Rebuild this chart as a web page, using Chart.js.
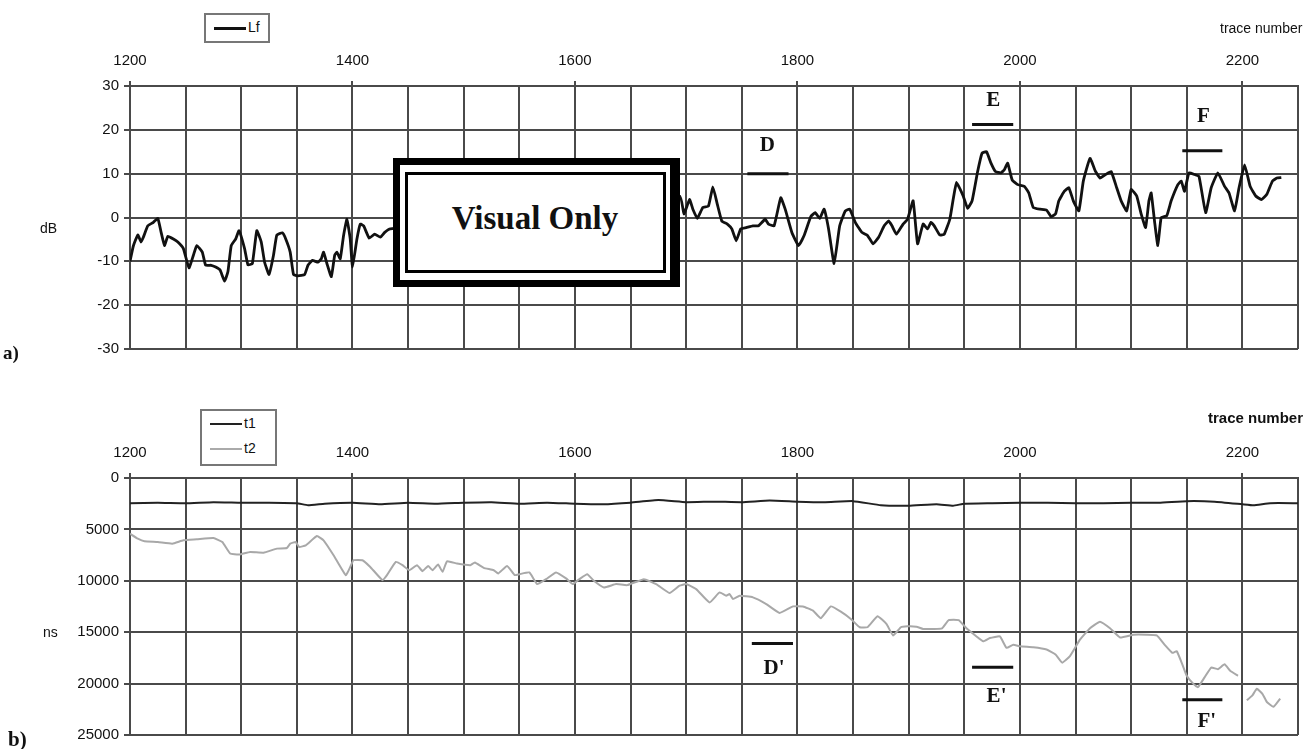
<!DOCTYPE html>
<html>
<head>
<meta charset="utf-8">
<script src="https://cdn.jsdelivr.net/npm/chart.js@4.4.0/dist/chart.umd.min.js"></script>
<style>
  body { margin: 0; background: #fff; font-family: "Liberation Sans", Arial, sans-serif; color: #111; }
  #wrap { position: relative; width: 1313px; height: 749px; overflow: hidden; background: #fff; }
  canvas { position: absolute; left: 0; }
  .lbl { position: absolute; white-space: nowrap; }
  .legend { position: absolute; border: 2px solid #777; background: #fff; }
  .legend .row { position: absolute; left: 8px; font-size: 14px; }
  .legend .sw { display: inline-block; width: 32px; vertical-align: middle; margin-right: 2px; }
  .tag { position: absolute; font-family: "Liberation Serif", serif; font-weight: bold; }
  #stamp { position: absolute; left: 393px; top: 158px; width: 270px; height: 115px;
           border: 7px solid #000; border-right-width: 10px; background: #fff; }
  #stamp .inner { position: absolute; left: 5px; top: 7px; width: 255px; height: 95px; border: 3px solid #000; }
  #stamp .txt { position: absolute; left: 0; right: 0; top: 35px; text-align: center;
                font-family: "Liberation Serif", serif; font-weight: bold; font-size: 33px; }
</style>
</head>
<body>
<div id="wrap">
  <canvas id="top" width="1313" height="365" style="top:0"></canvas>
  <canvas id="bot" width="1313" height="384" style="top:365px"></canvas>

  <div class="legend" style="left:204px;top:13px;width:62px;height:26px">
    <div class="row" style="top:4px"><span class="sw" style="border-top:3px solid #111"></span>Lf</div>
  </div>
  <div class="lbl" style="left:1220px;top:20px;font-size:14px">trace number</div>
  <div class="lbl" style="left:40px;top:220px;font-size:14px">dB</div>
  <div class="tag" style="left:3px;top:342px;font-size:19px">a)</div>

  <div class="legend" style="left:200px;top:409px;width:73px;height:53px">
    <div class="row" style="top:4px"><span class="sw" style="border-top:2px solid #222"></span>t1</div>
    <div class="row" style="top:29px"><span class="sw" style="border-top:2px solid #aaa"></span>t2</div>
  </div>
  <div class="lbl" style="left:1208px;top:409px;font-size:15px;font-weight:bold">trace number</div>
  <div class="lbl" style="left:43px;top:624px;font-size:14px">ns</div>
  <div class="tag" style="left:8px;top:727px;font-size:21px">b)</div>

  <div id="stamp"><div class="inner"></div><div class="txt">Visual Only</div></div>
</div>

<script>
// a) Lf level along the profile, dB
const lfTrace = [1200,1203,1207,1210,1212,1216,1221,1225,1228,1231,1234,1239,1243,1248,1253,1257,1260,1265,1268,1273,
  1277,1281,1285,1288,1291,1295,1298,1303,1306,1310,1314,1318,1321,1325,1329,1332,1337,1340,1344,1347,
  1351,1357,1360,1364,1369,1372,1374,1377,1381,1384,1386,1389,1392,1395,1398,1400,1404,1407,1410,1415,
  1420,1425,1429,1434,
  1694,1698,1703,1706,1710,1715,1720,1724,1728,1732,1737,1741,1745,1749,1754,1760,1765,1771,1774,1779,
  1785,1789,1795,1801,1806,1812,1816,1820,1824,1828,1833,1838,1843,1847,1852,1858,1863,1868,1873,1878,
  1882,1885,1889,1895,1899,1904,1908,1913,1917,1920,1923,1928,1932,1937,1940,1943,1949,1953,1957,1962,
  1966,1970,1974,1978,1983,1986,1989,1993,1998,2004,2008,2012,2018,2024,2028,2032,2035,2040,2044,2048,
  2053,2057,2063,2068,2072,2077,2082,2087,2091,2096,2100,2105,2109,2113,2116,2118,2121,2124,2127,2132,
  2136,2142,2145,2148,2152,2157,2161,2167,2172,2178,2184,2188,2193,2197,2202,2207,2212,2217,2222,2227,
  2231,2235];
const lfDb = [-10,-6.5,-4,-5.6,-4.5,-1.9,-1.1,-0.2,-3.4,-6.4,-4.3,-4.9,-5.6,-7.1,-11.5,-8.6,-6.4,-7.9,-10.9,-10.9,
  -11.3,-12,-14.5,-12.4,-6.4,-4.9,-3,-7.1,-10.8,-10.5,-3,-5.6,-10.2,-13,-8.6,-4,-3.5,-4.9,-7.9,-13,
  -13.3,-13,-10.9,-9.8,-10.2,-9.4,-7.9,-10.5,-13.5,-8.6,-7.9,-9.4,-4.1,-0.4,-4.9,-11.3,-4.9,-1.5,-1.9,-4.7,
  -3.8,-4.5,-3.4,-2.6,
  4.9,0.8,4.1,1.9,-0.2,2.3,2.6,7,3,-0.8,-1.5,-2.6,-5.3,-2.6,-2.3,-1.9,-1.9,-0.4,-1.5,-1.9,
  4.5,1.9,-3.4,-6.4,-4.1,0.2,1.1,-0.2,1.9,-2.6,-10.5,-1.9,1.5,1.9,-1.1,-3.4,-4.1,-6,-4.5,-1.9,
  -0.8,-1.9,-3.8,-1.5,-0.4,3.8,-6,-1.5,-2.6,-1.1,-1.9,-4,-3.8,-0.4,4.1,8,4.9,2.1,3.8,10.5,
  14.7,15,12.4,10.5,10.2,10.9,12.4,8.6,7.5,7.1,5.6,2.3,1.9,1.7,0.2,0.8,3.8,6,6.8,3.8,
  1.5,8.3,13.5,10.5,9,9.8,10.5,6.8,3.8,1.5,6.4,4.9,0.8,-2.3,3.8,5.6,-0.8,-6.4,0,0.4,
  3.8,7.5,8.3,6,10.2,9.8,9.4,1.1,6.8,10.2,7.1,5.6,1.5,6.8,12,7.1,4.9,4.1,5.3,8.3,
  9,9.1];

// b) travel times, ns
const t1Trace = [1200,1225,1250,1275,1300,1325,1350,1360,1375,1400,1425,1450,1475,1500,1525,1550,1575,1600,1625,1650,
  1675,1700,1725,1750,1775,1800,1825,1850,1875,1900,1925,1940,1950,1975,2000,2025,2050,2075,2100,2125,
  2150,2175,2200,2210,2225,2250];
const t1Ns = [2450,2400,2450,2350,2400,2400,2450,2650,2500,2400,2550,2400,2500,2400,2350,2500,2400,2500,2550,2400,
  2150,2350,2300,2350,2200,2300,2350,2250,2650,2700,2550,2700,2500,2450,2400,2400,2450,2450,2400,2400,
  2250,2300,2550,2650,2450,2450];

const t2Trace = [1200,1207,1213,1225,1238,1248,1260,1275,1283,1290,1298,1308,1320,1332,1341,1344,1349,1352,1358,1368,
  1374,1383,1394,1398,1401,1409,1416,1427,1431,1439,1445,1451,1458,1463,1468,1472,1477,1481,1485,1494,
  1506,1510,1518,1527,1531,1539,1546,1550,1559,1566,1574,1583,1592,1598,1604,1611,1617,1626,1637,1647,
  1662,1673,1685,1694,1700,1709,1721,1730,1736,1739,1742,1748,1760,1772,1784,1796,1805,1814,1821,1830,
  1839,1848,1856,1863,1872,1880,1886,1893,1899,1907,1913,1922,1930,1936,1945,1952,1961,1967,1973,1982,
  1988,1994,2000,2012,2024,2032,2038,2045,2054,2063,2072,2081,2090,2102,2114,2123,2130,2137,2141,2146,
  2150,2156,2160,2166,2172,2178,2184,2189,2196,2200,2204,2209,2213,2218,2222,2228,2234];
const t2Ns = [5420,5900,6160,6230,6390,6060,5970,5840,6230,7350,7450,7190,7260,6870,6810,6390,6230,6710,6550,5650,
  6060,7510,9450,8650,8000,8000,8650,9940,9450,8160,8480,8970,8480,9060,8550,8970,8420,9130,8100,8320,
  8480,8230,8740,8970,9290,8550,9450,9360,9190,10320,9840,9190,9770,10320,9840,9360,10000,10650,10320,10420,
  9840,10320,11190,10480,10320,10810,12100,11130,11450,11290,11770,11450,11610,12260,13130,12490,12490,12900,13650,12490,
  13000,13710,14520,14520,13450,14190,15320,14520,14420,14460,14680,14680,14620,13820,13820,14620,15410,15890,15570,15410,
  16530,16210,16370,16470,16690,17170,17960,17330,15730,14620,13980,14620,15510,15250,15250,15320,16210,17010,16850,18120,
  19240,20030,20350,19400,18440,18600,18120,18760,19240,null,21630,21150,20510,20990,21790,22260,21470];

// section marks (data units)
const topMarks = ['D', 'E', 'F'];
const topMarkFrom = [1755, 1957, 2146];
const topMarkTo = [1792, 1994, 2182];
const topMarkBar = [10, 21.2, 15.2];
const topMarkLabelX = [1773, 1976, 2165];
const topMarkLabelY = [16.4, 26.7, 23.1];

const botMarks = ["D'", "E'", "F'"];
const botMarkFrom = [1759, 1957, 2146];
const botMarkTo = [1796, 1994, 2182];
const botMarkBar = [16100, 18400, 21560];
const botMarkLabelX = [1779, 1979, 2168];
const botMarkLabelY = [18550, 21300, 23650];

const xTicksMin = 1200, xTicksMax = 2250, xStep = 50, xLabelEvery = 200;

Chart.defaults.font.family = '"Liberation Sans", Arial, sans-serif';
Chart.defaults.color = '#111';

const pts = (xs, ys) => xs.map((x, i) => ({ x, y: ys[i] }));

const marksPlugin = {
  id: 'marks',
  afterDatasetsDraw(chart, args, o) {
    if (!o || !o.names) return;
    const { ctx, scales: { x, y } } = chart;
    ctx.save();
    o.names.forEach((n, i) => {
      const by = y.getPixelForValue(o.bar[i]);
      ctx.strokeStyle = '#111';
      ctx.lineWidth = 3;
      ctx.beginPath();
      ctx.moveTo(x.getPixelForValue(o.from[i]), by);
      ctx.lineTo(x.getPixelForValue(o.to[i]), by);
      ctx.stroke();
      ctx.fillStyle = '#111';
      ctx.font = 'bold 21px "Liberation Serif", serif';
      ctx.textAlign = 'center';
      ctx.textBaseline = 'middle';
      ctx.fillText(n, x.getPixelForValue(o.labelX[i]), y.getPixelForValue(o.labelY[i]));
    });
    ctx.restore();
  }
};

function makeChart(id, datasets, yAxis, topH, bottomPad, marks) {
  return new Chart(document.getElementById(id), {
    type: 'line',
    data: { datasets },
    plugins: [marksPlugin],
    options: {
      responsive: false,
      animation: false,
      layout: { padding: { left: 0, right: 15, top: 0, bottom: bottomPad } },
      plugins: { legend: { display: false }, tooltip: { enabled: false }, marks },
      elements: { point: { radius: 0 }, line: { tension: 0.12 } },
      scales: {
        x: {
          type: 'linear', position: 'top', min: xTicksMin, max: xTicksMax,
          afterFit(a) { a.height = topH; },
          grid: { color: '#4a4a4a', lineWidth: 2, tickLength: 5,
                  tickColor: c => (c.tick && c.tick.value % xLabelEvery === 0) ? '#4a4a4a' : 'rgba(0,0,0,0)' },
          border: { color: '#4a4a4a', width: 2 },
          ticks: { stepSize: xStep, autoSkip: false, maxRotation: 0, padding: 11,
                   font: { size: 15 }, color: '#111',
                   callback: v => v % xLabelEvery === 0 ? String(v) : '' }
        },
        y: Object.assign({
          afterFit(a) { a.width = 130; },
          grid: { color: '#4a4a4a', lineWidth: 2, tickLength: 6 },
          border: { color: '#4a4a4a', width: 2 },
        }, yAxis)
      }
    }
  });
}

makeChart('top', [
  { label: 'Lf', data: pts(lfTrace, lfDb), borderColor: '#111', borderWidth: 2.8 }
], {
  min: -30, max: 30,
  ticks: { stepSize: 10, padding: 5, font: { size: 15 }, color: '#111', callback: v => String(v) }
}, 86, 16, {
  names: topMarks, from: topMarkFrom, to: topMarkTo, bar: topMarkBar, labelX: topMarkLabelX, labelY: topMarkLabelY
});

makeChart('bot', [
  { label: 't1', data: pts(t1Trace, t1Ns), borderColor: '#222', borderWidth: 2 },
  { label: 't2', data: pts(t2Trace, t2Ns), borderColor: '#a8a8a8', borderWidth: 2, spanGaps: false }
], {
  min: 0, max: 25000, reverse: true,
  ticks: { stepSize: 5000, padding: 5, font: { size: 15 }, color: '#111', callback: v => String(v) }
}, 113, 9, {
  names: botMarks, from: botMarkFrom, to: botMarkTo, bar: botMarkBar, labelX: botMarkLabelX, labelY: botMarkLabelY
});
</script>
</body>
</html>
